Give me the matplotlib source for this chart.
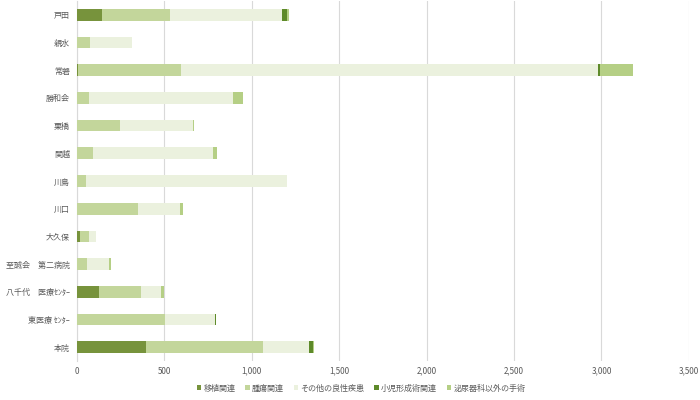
import matplotlib
matplotlib.use("Agg")
import matplotlib.pyplot as plt
import numpy as np

plt.rcParams["font.family"] = ["Noto Sans CJK JP", "DejaVu Sans"]

# hospitals, top to bottom as drawn
hospitals = [
    "戸田", "親水", "常磐", "勝和会", "栗橋", "関越", "川島", "川口", "大久保",
    "至誠会　第二病院", "八千代　医療ｾﾝﾀｰ", "東医療 ｾﾝﾀｰ", "本院",
]
transplant = [143, 0, 5, 0, 0, 0, 0, 0, 20, 0, 124, 0, 392]
tumor = [387, 74, 592, 67, 244, 90, 50, 347, 51, 55, 242, 501, 674]
benign = [643, 240, 2386, 827, 421, 686, 1149, 244, 40, 130, 116, 286, 259]
pediatric = [31, 0, 10, 0, 0, 0, 0, 0, 0, 0, 0, 11, 23]
non_urology = [6, 2, 190, 53, 5, 23, 0, 13, 0, 8, 15, 0, 9]

series_names = ["移植関連", "腫瘍関連", "その他の良性疾患", "小児形成術関連", "泌尿器科以外の手術"]
series_values = [transplant, tumor, benign, pediatric, non_urology]
colours = ["#77933C", "#C3D69B", "#EBF1DE", "#5E8A2A", "#B5CF85"]

txt = "#595959"

fig = plt.figure(figsize=(7, 4), dpi=100)
ax = fig.add_axes([0.11, 0.0975, 0.874, 0.9])

y = np.arange(len(hospitals))
left = np.zeros(len(hospitals))
for name, vals, col in zip(series_names, series_values, colours):
    vals = np.array(vals, dtype=float)
    ax.barh(y, vals, left=left, height=0.42, color=col, label=name, zorder=3)
    left += vals

ax.set_xlim(0, 3500)
ax.set_ylim(len(hospitals) - 0.5, -0.5)
ax.set_xticks(np.arange(0, 3501, 500))
ax.set_xticklabels([f"{v:,}" for v in range(0, 3501, 500)])
ax.set_yticks(y)
ax.set_yticklabels(hospitals)
ax.xaxis.grid(True, color="#D9D9D9", linewidth=0.8, zorder=0)

for side in ("top", "right", "bottom"):
    ax.spines[side].set_visible(False)
ax.spines["left"].set_color("#D9D9D9")
ax.tick_params(axis="both", length=0, labelsize=5.8, colors=txt)
ax.tick_params(axis="x", pad=4)
ax.tick_params(axis="y", pad=5)

fig.legend(
    *ax.get_legend_handles_labels(),
    loc="center", bbox_to_anchor=(0.516, 0.03), ncol=5, frameon=False,
    fontsize=5.8, labelcolor=txt, handlelength=0.55, handleheight=0.55,
    handletextpad=0.25, columnspacing=1.25,
)

fig.savefig("out.png", dpi=100)
